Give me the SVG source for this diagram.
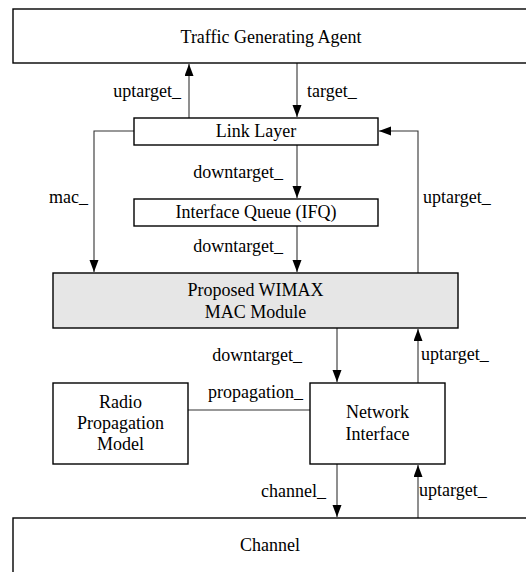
<svg xmlns="http://www.w3.org/2000/svg" width="526" height="572" viewBox="0 0 526 572">
<style>
.box{fill:#fff;stroke:#000;stroke-width:1.4}
.mac{fill:#e6e6e6;stroke:#000;stroke-width:1.4}
.t{font-family:"Liberation Serif","Times New Roman",serif;font-size:18px;fill:#000}
.c{text-anchor:middle}
.e{text-anchor:end}
.ln{fill:none;stroke:#333;stroke-width:1.1}
</style>
<defs>
<marker id="ah" markerUnits="userSpaceOnUse" markerWidth="13" markerHeight="10" refX="12" refY="4.5" orient="auto">
<path d="M0,0 L12,4.5 L0,9 z" fill="#000"/>
</marker>
</defs>
<rect width="526" height="572" fill="#fff"/>
<g id="connectors">
<line class="ln" x1="189" y1="118" x2="189" y2="64" marker-end="url(#ah)"/>
<line class="ln" x1="297" y1="63" x2="297" y2="117" marker-end="url(#ah)"/>
<polyline class="ln" points="134,131 94,131 94,272" marker-end="url(#ah)"/>
<polyline class="ln" points="418,273 418,131 379,131" marker-end="url(#ah)"/>
<line class="ln" x1="297" y1="145" x2="297" y2="198" marker-end="url(#ah)"/>
<line class="ln" x1="297" y1="226" x2="297" y2="272" marker-end="url(#ah)"/>
<line class="ln" x1="337" y1="328" x2="337" y2="382" marker-end="url(#ah)"/>
<line class="ln" x1="418" y1="383" x2="418" y2="329" marker-end="url(#ah)"/>
<line class="ln" x1="188" y1="410" x2="310" y2="410"/>
<line class="ln" x1="337" y1="464" x2="337" y2="517" marker-end="url(#ah)"/>
<line class="ln" x1="418" y1="518" x2="418" y2="465" marker-end="url(#ah)"/>
<text class="t e" x="181" y="97">uptarget_</text>
<text class="t" x="307" y="97">target_</text>
<text class="t e" x="88" y="203">mac_</text>
<text class="t" x="423" y="203">uptarget_</text>
<text class="t e" x="283" y="178">downtarget_</text>
<text class="t e" x="283" y="252">downtarget_</text>
<text class="t e" x="302" y="361">downtarget_</text>
<text class="t" x="421" y="360">uptarget_</text>
<text class="t e" x="303" y="398">propagation_</text>
<text class="t e" x="326" y="497">channel_</text>
<text class="t" x="419" y="496">uptarget_</text>
</g>
<g id="agent">
<rect class="box" x="13" y="9" width="530" height="54"/>
<text class="t c" x="271" y="43">Traffic Generating Agent</text>
</g>
<g id="linklayer">
<rect class="box" x="134" y="118" width="244" height="27"/>
<text class="t c" x="256" y="137">Link Layer</text>
</g>
<g id="ifq">
<rect class="box" x="134" y="199" width="244" height="27"/>
<text class="t c" x="256" y="218">Interface Queue (IFQ)</text>
</g>
<g id="mac">
<rect class="mac" x="53" y="273" width="405" height="55"/>
<text class="t c" x="255.5" y="296">Proposed WIMAX</text>
<text class="t c" x="255.5" y="318">MAC Module</text>
</g>
<g id="radio">
<rect class="box" x="53" y="383" width="135" height="81"/>
<text class="t c" x="120.5" y="408">Radio</text>
<text class="t c" x="120.5" y="429">Propagation</text>
<text class="t c" x="120.5" y="450">Model</text>
</g>
<g id="netif">
<rect class="box" x="310" y="383" width="135" height="81"/>
<text class="t c" x="377.5" y="418">Network</text>
<text class="t c" x="377.5" y="440">Interface</text>
</g>
<g id="channel">
<rect class="box" x="13" y="518" width="530" height="70"/>
<text class="t c" x="270" y="551">Channel</text>
</g>
</svg>
